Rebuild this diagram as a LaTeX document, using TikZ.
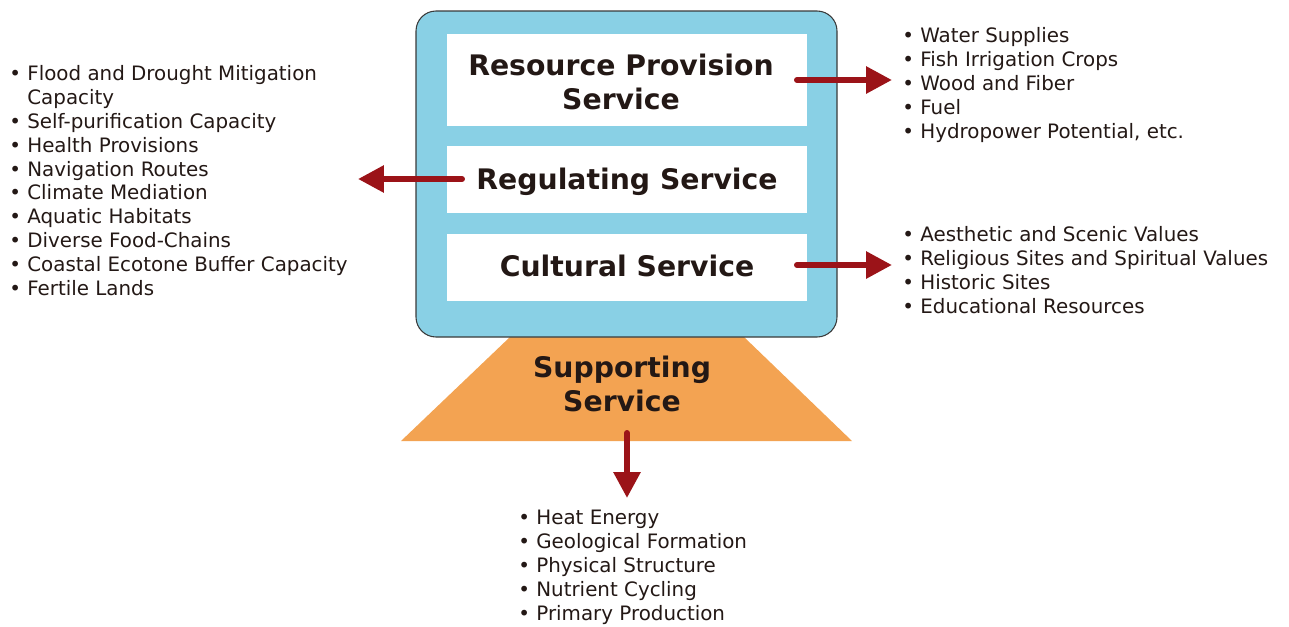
\documentclass[tikz,border=0pt]{standalone}
\usepackage{fontspec}
\setmainfont{DejaVu Sans}
\usetikzlibrary{arrows.meta}
\definecolor{skyblue}{HTML}{89D0E5}
\definecolor{supporange}{HTML}{F3A352}
\definecolor{darkred}{HTML}{9B1318}
\definecolor{inktext}{HTML}{231815}
\definecolor{frame}{HTML}{3A3A3A}
\tikzset{
  title/.style={font=\fontsize{16.1}{19.3}\selectfont\bfseries, text=inktext, align=center, inner sep=0pt},
  listtext/.style={font=\fontsize{11.3}{13.6}\selectfont, text=inktext, align=left, anchor=north west, inner sep=0pt},
  whitebox/.style={fill=white, draw=none, inner sep=0pt},
  redarrow/.style={draw=darkred, line width=3.4pt, line cap=round, -{Triangle[length=14.7pt,width=14.7pt]}}
}
\newcommand{\bul}{\textbullet\ }
\newcommand{\ind}{\phantom{\textbullet\ }}
\begin{document}
\begin{tikzpicture}[x=0.02cm,y=-0.02cm]
\useasboundingbox (0,0) rectangle (1289,626);
% supporting trapezoid
\fill[supporange] (510,337) coordinate (tl) -- (744,337) -- (852,441) -- (401,441) -- cycle;
\node[title] (supp) at (622,384) {Supporting\\Service};
% blue frame
\node[draw=frame, line width=0.6pt, fill=skyblue, rounded corners=0.4cm, minimum width=421*0.02cm, minimum height=326*0.02cm, inner sep=0pt] (frame) at (626.5,174) {};
\node[whitebox, minimum width=360*0.02cm, minimum height=92*0.02cm] (rbox) at (627,80) {};
\node[whitebox, minimum width=360*0.02cm, minimum height=67*0.02cm] (gbox) at (627,179.5) {};
\node[whitebox, minimum width=360*0.02cm, minimum height=67*0.02cm] (cbox) at (627,267.5) {};
\node[title] (rtext) at (621,82) {Resource Provision\\Service};
\node[title] (gtext) at (627,182) {Regulating Service};
\node[title] (ctext) at (627,266) {Cultural Service};
% lists
\node[listtext] (leftlist) at (9,65) {\bul Flood and Drought Mitigation\\\ind Capacity\\\bul Self-purification Capacity\\\bul Health Provisions\\\bul Navigation Routes\\\bul Climate Mediation\\\bul Aquatic Habitats\\\bul Diverse Food-Chains\\\bul Coastal Ecotone Buffer Capacity\\\bul Fertile Lands};
\node[listtext] (rlist) at (902,27) {\bul Water Supplies\\\bul Fish Irrigation Crops\\\bul Wood and Fiber\\\bul Fuel\\\bul Hydropower Potential, etc.};
\node[listtext] (clist) at (902,226) {\bul Aesthetic and Scenic Values\\\bul Religious Sites and Spiritual Values\\\bul Historic Sites\\\bul Educational Resources};
\node[listtext] (slist) at (518,510) {\bul Heat Energy\\\bul Geological Formation\\\bul Physical Structure\\\bul Nutrient Cycling\\\bul Primary Production};
% arrows
\coordinate (r1) at (797,80);
\coordinate (r2) at (892,80);
\coordinate (g1) at (462,179);
\coordinate (g2) at (358,179);
\coordinate (c1) at (797,265);
\coordinate (c2) at (892,265);
\coordinate (s1) at (627,433);
\coordinate (s2) at (627,498);
\draw[redarrow] (r1) -- (r2);
\draw[redarrow] (g1) -- (g2);
\draw[redarrow] (c1) -- (c2);
\draw[redarrow] (s1) -- (s2);
\end{tikzpicture}
\end{document}
